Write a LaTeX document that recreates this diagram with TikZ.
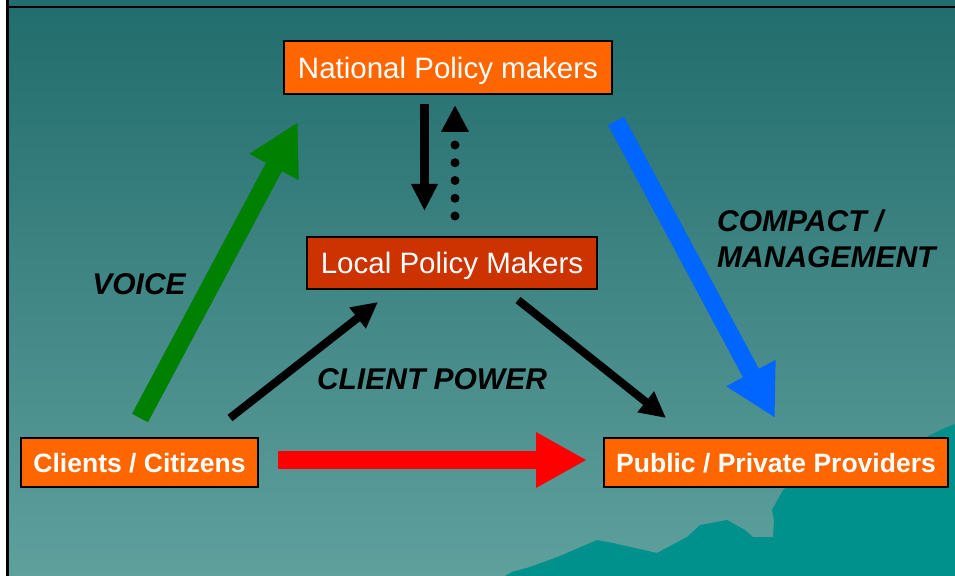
\documentclass[tikz,border=0pt]{standalone}
\usepackage{fontspec}
\setmainfont{Liberation Sans}
\usetikzlibrary{arrows.meta}
\definecolor{bgtop}{HTML}{226D6D}
\definecolor{bgmid}{HTML}{4A8C8A}
\definecolor{bgbot}{HTML}{5FA09D}
\definecolor{mount}{HTML}{00918D}
\definecolor{orangebox}{HTML}{FF6600}
\definecolor{redbox}{HTML}{CC3300}
\definecolor{greenarr}{HTML}{008000}
\definecolor{bluearr}{HTML}{0066FF}
\definecolor{redarr}{HTML}{FF0000}
\tikzset{
  actorbox/.style={draw=black, line width=1.2bp, fill=orangebox, text=white, inner sep=0pt, text depth=0pt, minimum height=50bp},
  normaltext/.style={font=\fontsize{29.5bp}{33bp}\selectfont},
  boldtext/.style={font=\fontsize{26.5bp}{30bp}\selectfont\bfseries},
  labeltext/.style={font=\fontsize{30bp}{36bp}\selectfont\bfseries\itshape, text=black, inner sep=0pt},
  fatarrow/.style={line width=18bp, -{Triangle[width=52bp,length=51bp]}},
  thinarrow/.style={line width=8bp, -{Triangle[width=25bp,length=26bp]}},
}
\begin{document}
\begin{tikzpicture}[x=1bp,y=-1bp]
\useasboundingbox (0,0) rectangle (955,576);
% background
\fill[white] (0,0) rectangle (955,576);
\fill[bgtop] (9,0) rectangle (955,8);
\shade[top color=bgtop, middle color=bgmid, bottom color=bgbot] (9,8) rectangle (955,576);
\fill[mount] (505,576) -- (512,572) -- (530,567) -- (560,556) -- (597,540) -- (613,543) -- (657,553) -- (687,537) -- (700,525) -- (727,520) -- (745,530) -- (753,537) -- (773,537) -- (774,520) -- (772,510) -- (783,490) -- (795,480) -- (900,460) -- (930,435) -- (945,428) -- (955,424) -- (955,576) -- cycle;
\draw[black, line width=2bp] (9,7.5) -- (955,7.5);
\draw[black, line width=3bp] (7.5,0) -- (7.5,576);

% nodes
\node[actorbox, normaltext, minimum width=328bp, minimum height=53bp] (nat) at (448,67.5) {National Policy makers};
\node[actorbox, normaltext, fill=redbox, minimum width=290bp, minimum height=52bp] (loc) at (452,263) {Local Policy Makers};
\node[actorbox, boldtext, minimum width=237bp, minimum height=49bp] (cli) at (139.5,462.5) {Clients / Citizens};
\node[actorbox, boldtext, minimum width=344bp, minimum height=49bp] (pub) at (776,462.5) {Public / Private Providers};

% arrow end points
\coordinate (voiceS) at (140,418);
\coordinate (voiceE) at (298,122);
\coordinate (compS) at (616,121);
\coordinate (compE) at (775,418);
\coordinate (redS) at (278,460);
\coordinate (redE) at (587,460);
\coordinate (cpS) at (230,418);
\coordinate (cpE) at (378,302);
\coordinate (lpS) at (518,300);
\coordinate (lpE) at (666,418);
\coordinate (dnS) at (424.5,104);
\coordinate (dnE) at (424.5,211);
\coordinate (upS) at (455,216);
\coordinate (upE) at (455,105);

% arrows
\draw[fatarrow, greenarr] (voiceS) -- (voiceE);
\draw[fatarrow, bluearr] (compS) -- (compE);
\draw[fatarrow, redarr] (redS) -- (redE);
\draw[thinarrow, black] (cpS) -- (cpE);
\draw[thinarrow, black] (lpS) -- (lpE);
\draw[line width=9bp, black, -{Triangle[width=25bp,length=27bp]}] (dnS) -- (dnE);
\draw[line width=9bp, black, line cap=round, dash pattern=on 0bp off 17.75bp, -{Triangle[width=26bp,length=27bp]}] (upS) -- (upE);

% labels
\node[labeltext] (voice) at (139,284) {VOICE};
\node[labeltext] (cpower) at (432,379) {CLIENT POWER};
\node[labeltext, anchor=west, align=left] (compact) at (717,239) {COMPACT /\\MANAGEMENT};
\end{tikzpicture}
\end{document}
